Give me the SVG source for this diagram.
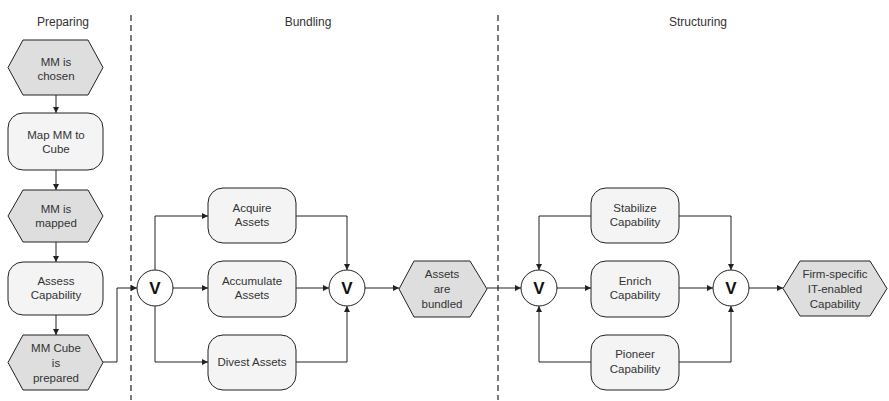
<svg xmlns="http://www.w3.org/2000/svg" width="889" height="401" viewBox="0 0 889 401">
<defs>
<style>
text{font-family:"Liberation Sans",Arial,sans-serif;font-size:11.5px;fill:#333;text-anchor:middle}
.title{font-size:12px}
.hex{fill:#dedede;stroke:#222;stroke-width:1}
.box{fill:#f4f4f4;stroke:#222;stroke-width:1}
.gate{fill:#fff;stroke:#222;stroke-width:1}
.v{font-size:17px;font-weight:bold;fill:#111}
.sep{stroke:#222;stroke-width:1.2;stroke-dasharray:6,4;fill:none}
.c{fill:none;stroke:#222;stroke-width:1;marker-end:url(#ah)}
</style>
<marker id="ah" viewBox="0 0 6 6" refX="6" refY="3" markerWidth="6" markerHeight="6" markerUnits="userSpaceOnUse" orient="auto">
<path d="M0,0 L6,3 L0,6 Z" fill="#222"/>
</marker>
</defs>
<rect width="889" height="401" fill="#fff"/>
<g id="separators">
<line class="sep" x1="131" y1="15" x2="131" y2="400"/>
<line class="sep" x1="498" y1="15" x2="498" y2="400"/>
</g>
<g id="titles">
<text class="title" x="63" y="26">Preparing</text>
<text class="title" x="308" y="26">Bundling</text>
<text class="title" x="698" y="26">Structuring</text>
</g>
<g id="connectors">
<line class="c" x1="56" y1="95" x2="56" y2="113"/>
<line class="c" x1="56" y1="170" x2="56" y2="190"/>
<line class="c" x1="56" y1="242" x2="56" y2="262"/>
<line class="c" x1="56" y1="315" x2="56" y2="335"/>
<polyline class="c" points="103,362 117,362 117,288 137,288"/>
<polyline class="c" points="155,270 155,216 208,216"/>
<line class="c" x1="173" y1="288" x2="208" y2="288"/>
<polyline class="c" points="155,306 155,362 208,362"/>
<polyline class="c" points="296,216 347,216 347,270"/>
<line class="c" x1="296" y1="288" x2="329" y2="288"/>
<polyline class="c" points="296,362 347,362 347,306"/>
<line class="c" x1="365" y1="288" x2="399" y2="288"/>
<line class="c" x1="487" y1="288" x2="521" y2="288"/>
<polyline class="c" points="591,216 539,216 539,270"/>
<polyline class="c" points="591,362 539,362 539,306"/>
<line class="c" x1="557" y1="288" x2="591" y2="288"/>
<line class="c" x1="679" y1="288" x2="713" y2="288"/>
<polyline class="c" points="679,216 731,216 731,270"/>
<polyline class="c" points="679,362 731,362 731,306"/>
<line class="c" x1="749" y1="288" x2="783" y2="288"/>
</g>
<g id="mm-chosen">
<polygon class="hex" points="8,67.5 23,40 88,40 103,67.5 88,95 23,95"/>
<text x="56" y="66">MM is</text>
<text x="56" y="80">chosen</text>
</g>
<g id="map-mm">
<rect class="box" x="8" y="113" width="95" height="57" rx="15"/>
<text x="56" y="139">Map MM to</text>
<text x="56" y="153">Cube</text>
</g>
<g id="mm-mapped">
<polygon class="hex" points="8,216 23,190 88,190 103,216 88,242 23,242"/>
<text x="56" y="213">MM is</text>
<text x="56" y="227">mapped</text>
</g>
<g id="assess">
<rect class="box" x="8" y="262" width="95" height="53" rx="15"/>
<text x="56" y="285">Assess</text>
<text x="56" y="299">Capability</text>
</g>
<g id="mm-prepared">
<polygon class="hex" points="8,362.5 23,335 88,335 103,362.5 88,390 23,390"/>
<text x="56" y="352">MM Cube</text>
<text x="56" y="367">is</text>
<text x="56" y="382">prepared</text>
</g>
<g id="gate1">
<circle class="gate" cx="155" cy="288" r="18"/>
<text class="v" x="155" y="294">V</text>
</g>
<g id="acquire">
<rect class="box" x="208" y="188" width="88" height="55" rx="15"/>
<text x="252" y="212">Acquire</text>
<text x="252" y="226">Assets</text>
</g>
<g id="accumulate">
<rect class="box" x="208" y="261" width="88" height="56" rx="15"/>
<text x="252" y="285">Accumulate</text>
<text x="252" y="299">Assets</text>
</g>
<g id="divest">
<rect class="box" x="208" y="335" width="88" height="55" rx="15"/>
<text x="252" y="366">Divest Assets</text>
</g>
<g id="gate2">
<circle class="gate" cx="347" cy="288" r="18"/>
<text class="v" x="347" y="294">V</text>
</g>
<g id="bundled">
<polygon class="hex" points="399,289 414,261 470,261 487,289 470,317 414,317"/>
<text x="442" y="278">Assets</text>
<text x="442" y="293">are</text>
<text x="442" y="308">bundled</text>
</g>
<g id="gate3">
<circle class="gate" cx="539" cy="288" r="18"/>
<text class="v" x="539" y="294">V</text>
</g>
<g id="stabilize">
<rect class="box" x="591" y="188" width="88" height="55" rx="15"/>
<text x="635" y="212">Stabilize</text>
<text x="635" y="226">Capability</text>
</g>
<g id="enrich">
<rect class="box" x="591" y="261" width="88" height="56" rx="15"/>
<text x="635" y="285">Enrich</text>
<text x="635" y="299">Capability</text>
</g>
<g id="pioneer">
<rect class="box" x="591" y="335" width="88" height="55" rx="15"/>
<text x="635" y="358">Pioneer</text>
<text x="635" y="373">Capability</text>
</g>
<g id="gate4">
<circle class="gate" cx="731" cy="288" r="18"/>
<text class="v" x="731" y="294">V</text>
</g>
<g id="firm-capability">
<polygon class="hex" points="783,288.5 800,261 870,261 887,288.5 870,316 800,316"/>
<text x="835" y="278">Firm-specific</text>
<text x="835" y="293">IT-enabled</text>
<text x="835" y="308">Capability</text>
</g>
</svg>
